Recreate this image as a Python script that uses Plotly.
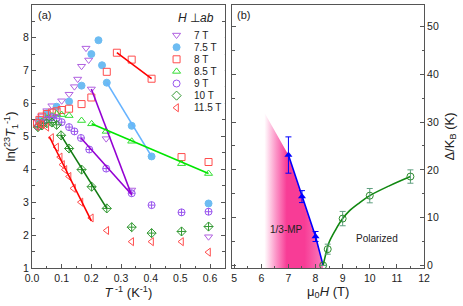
import plotly.graph_objects as go
import numpy as np

# ---------------- Panel (a) data: ln(23 T1^-1) vs 1/T ----------------
fields = ["7 T", "7.5 T", "8 T", "8.5 T", "9 T", "10 T", "11.5 T"]

s7_x = [0.02, 0.033, 0.05, 0.067, 0.1, 0.125, 0.143, 0.154, 0.167, 0.182, 0.191, 0.2, 0.25, 0.336, 0.595]
s7_y = [5.45, 5.62, 5.78, 5.93, 6.08, 6.28, 6.51, 6.74, 7.13, 7.68, 7.32, 6.44, 4.93, 3.37, 1.95]

s75_x = [0.025, 0.05, 0.083, 0.125, 0.167, 0.2, 0.224, 0.236, 0.252, 0.336, 0.403, 0.595]
s75_y = [5.5, 5.7, 5.9, 6.06, 6.54, 7.5, 7.92, 7.16, 6.63, 5.32, 4.39, 2.96]

s8_x = [0.017, 0.025, 0.033, 0.05, 0.067, 0.083, 0.1, 0.125, 0.167, 0.2, 0.252, 0.286, 0.336, 0.403, 0.504, 0.595]
s8_y = [5.4, 5.5, 5.6, 5.68, 5.72, 5.76, 5.8, 5.84, 5.98, 6.18, 6.96, 7.54, 7.33, 6.75, 4.37, 4.22]

s85_x = [0.02, 0.033, 0.05, 0.067, 0.083, 0.1, 0.125, 0.167, 0.201, 0.25, 0.336, 0.504, 0.595]
s85_y = [5.35, 5.45, 5.55, 5.62, 5.68, 5.66, 5.63, 5.48, 5.38, 5.15, 4.85, 4.17, 3.87]

s9_x = [0.02, 0.033, 0.05, 0.067, 0.083, 0.1, 0.125, 0.143, 0.165, 0.193, 0.25, 0.336, 0.403, 0.504, 0.595]
s9_y = [5.3, 5.4, 5.5, 5.58, 5.55, 5.43, 5.28, 5.15, 4.95, 4.6, 4.02, 3.27, 2.91, 2.69, 2.71]

s10_x = [0.02, 0.033, 0.05, 0.067, 0.083, 0.098, 0.125, 0.167, 0.201, 0.252, 0.336, 0.403, 0.504, 0.595]
s10_y = [5.28, 5.33, 5.4, 5.42, 5.35, 5.03, 4.63, 3.99, 3.47, 2.81, 2.24, 2.06, 2.11, 2.26]

s115_x = [0.017, 0.025, 0.033, 0.05, 0.066, 0.083, 0.095, 0.103, 0.111, 0.125, 0.14, 0.165, 0.2, 0.252, 0.336, 0.403, 0.504, 0.595]
s115_y = [5.3, 5.38, 5.35, 5.28, 4.96, 4.67, 4.37, 4.14, 3.99, 3.78, 3.42, 3.0, 2.52, 2.14, 1.80, 1.80, 1.80, 1.48]

# linear fits (endpoints)
fit7_x, fit7_y = [0.2, 0.336], [6.44, 3.21]
fit75_x, fit75_y = [0.252, 0.403], [6.63, 4.39]
fit8_x, fit8_y = [0.286, 0.403], [7.54, 6.75]
fit85_x, fit85_y = [0.201, 0.595], [5.38, 3.87]
fit9_x, fit9_y = [0.165, 0.334], [4.95, 3.25]
fit10_x, fit10_y = [0.098, 0.252], [5.03, 2.81]
fit115_x, fit115_y = [0.059, 0.2], [4.98, 2.43]

# ---------------- Panel (b) data: gap vs field ----------------
mp_H = [7.0, 7.5, 8.0]
mp_gap = [23.1, 14.4, 6.05]
mp_err = [3.8, 1.25, 1.05]
mp_line_H = [7.0, 7.5, 8.0, 8.28]
mp_line_gap = [23.1, 14.4, 6.05, 0.0]

pol_H = [8.28, 8.45, 9.0, 10.0, 11.5]
pol_gap = [0.0, 3.4, 9.8, 14.6, 18.6]
pol_err = [0.0, 1.05, 1.5, 1.5, 1.4]
pol_fit_H = [8.28, 8.37, 8.49, 8.74, 9.0, 9.23, 9.6, 10.0, 10.7, 11.5]
pol_fit_gap = [0.0, 2.2, 4.7, 7.45, 9.8, 11.3, 13.0, 14.6, 16.6, 18.6]

region_H = [5.95, 7.0, 7.5, 8.0, 8.28, 8.28, 5.95]
region_gap = [33.6, 23.1, 14.4, 6.05, 0.0, -0.54, -0.54]

FONT = "Liberation Sans, Arial, sans-serif"
TXT = "#222"
AX = "#555"

series = [
    (s7_x, s7_y, "triangle-down-open", "#b060e0", fit7_x, fit7_y, "#9400d3"),
    (s75_x, s75_y, "circle", "#6dbcf2", fit75_x, fit75_y, "#66b3ff"),
    (s8_x, s8_y, "square-open", "#ff4d4d", fit8_x, fit8_y, "#ff0000"),
    (s85_x, s85_y, "triangle-up-open", "#33dd33", fit85_x, fit85_y, "#00e600"),
    (s9_x, s9_y, "circle-cross-open", "#9955ee", fit9_x, fit9_y, "#9400d3"),
    (s10_x, s10_y, "diamond-cross-open", "#339933", fit10_x, fit10_y, "#117a11"),
    (s115_x, s115_y, "triangle-left-open", "#ff4d4d", fit115_x, fit115_y, "#ff0000"),
]
legend_symbols = ["triangle-down-open", "circle", "square-open", "triangle-up-open",
                  "circle-open", "diamond-open", "triangle-left-open"]

fig = go.Figure()

for xs, ys, sym, col, fx, fy, fcol in series:
    fig.add_trace(go.Scatter(x=xs, y=ys, mode="markers", xaxis="x", yaxis="y",
                             marker=dict(symbol=sym, size=7, color=col,
                                         line=dict(color=col, width=1)),
                             showlegend=False))
for xs, ys, sym, col, fx, fy, fcol in series:
    fig.add_trace(go.Scatter(x=fx, y=fy, mode="lines", xaxis="x", yaxis="y",
                             line=dict(color=fcol, width=1.6), showlegend=False))

# manual legend (panel a)
leg_cols = [s[3] for s in series]
fig.add_trace(go.Scatter(x=[0.12] * len(fields), y=fields, mode="markers",
                         xaxis="x5", yaxis="y5",
                         marker=dict(symbol=legend_symbols, size=7, color=leg_cols,
                                     line=dict(color=leg_cols, width=1)),
                         showlegend=False))

# ---------------- Panel (b) ----------------
fig.add_trace(go.Scatter(x=region_H, y=region_gap, mode="lines", fill="toself",
                         line=dict(width=0), xaxis="x2", yaxis="y2",
                         fillgradient=dict(type="horizontal", start=5.95, stop=8.3,
                                           colorscale=[[0.0, "rgba(255,255,255,1)"],
                                                       [0.07, "rgba(255,255,255,1)"],
                                                       [0.25, "rgb(252,150,200)"],
                                                       [0.42, "rgb(248,60,150)"],
                                                       [0.7, "rgb(248,60,150)"],
                                                       [1.0, "rgb(250,125,190)"]]),
                         hoverinfo="skip", showlegend=False))
fig.add_trace(go.Scatter(x=mp_line_H, y=mp_line_gap, mode="lines", xaxis="x2", yaxis="y2",
                         line=dict(color="#0000ff", width=1.6), showlegend=False))
fig.add_trace(go.Scatter(x=pol_fit_H, y=pol_fit_gap, mode="lines", xaxis="x2", yaxis="y2",
                         line=dict(color="#118811", width=1.6, shape="spline"),
                         showlegend=False))
fig.add_trace(go.Scatter(x=mp_H, y=mp_gap, mode="markers", xaxis="x2", yaxis="y2",
                         marker=dict(symbol="triangle-up", size=7, color="#0000ff"),
                         error_y=dict(type="data", array=mp_err, color="#0000ff",
                                      thickness=1, width=3),
                         showlegend=False))
fig.add_trace(go.Scatter(x=pol_H, y=pol_gap, mode="markers", xaxis="x2", yaxis="y2",
                         marker=dict(symbol="circle-open", size=7, color="#2e8b2e",
                                     line=dict(width=1)),
                         error_y=dict(type="data", array=pol_err, color="#5f9f7f",
                                      thickness=1, width=3),
                         showlegend=False))

tickfont = dict(family=FONT, size=10.5, color=TXT)
titlefont = dict(family=FONT, size=13, color=TXT)
common = dict(showline=True, linecolor=AX, linewidth=1, ticks="inside", ticklen=4,
              tickcolor=AX, showgrid=False, zeroline=False, tickfont=tickfont)

fig.update_layout(
    width=463, height=306,
    margin=dict(l=32, r=39, t=5, b=38),
    paper_bgcolor="white", plot_bgcolor="white",
    font=dict(family=FONT, color=TXT),
    xaxis=dict(domain=[0, 0.492], range=[0, 0.65], dtick=0.1, tickformat=".1f",
               anchor="y", mirror=True,
               minor=dict(dtick=0.05, ticks="inside", ticklen=2.5, tickcolor=AX),
               title=dict(text="<i>T</i><sup> -1</sup> (K<sup>-1</sup>)", font=titlefont,
                          standoff=3),
               **common),
    yaxis=dict(domain=[0, 1], range=[1, 8.99], dtick=1, anchor="x", mirror="ticks",
               minor=dict(dtick=0.5, ticks="inside", ticklen=2.5, tickcolor=AX),
               title=dict(text="ln(<sup>23</sup><i>T</i><sub>1</sub><sup>-1</sup>)",
                          font=titlefont, standoff=4),
               **common),
    xaxis3=dict(overlaying="x", side="top", anchor="y", range=[-0.976, 11.39], dtick=1,
                ticks="inside", ticklen=3, tickcolor=AX, showticklabels=False,
                showline=False, showgrid=False, zeroline=False),
    xaxis2=dict(domain=[0.511, 1], range=[4.93, 12.001], dtick=1, anchor="y2", mirror=True,
                minor=dict(dtick=0.5, ticks="inside", ticklen=2.5, tickcolor=AX),
                title=dict(text="μ<sub>0</sub><i>H</i> (T)", font=titlefont, standoff=3),
                **common),
    yaxis2=dict(domain=[0, 1], range=[-0.54, 54.5], dtick=10, anchor="x2", side="right",
                mirror="ticks",
                minor=dict(dtick=5, ticks="inside", ticklen=2.5, tickcolor=AX),
                title=dict(text="Δ/K<sub>B</sub> (K)", font=titlefont, standoff=6),
                **common),
    xaxis4=dict(overlaying="x2", side="top", anchor="y2", range=[-1.072, 9.52], dtick=1,
                ticks="inside", ticklen=3, tickcolor=AX, showticklabels=False,
                showline=False, showgrid=False, zeroline=False),
    xaxis5=dict(domain=[0.352, 0.492], range=[0, 1], visible=False, anchor="y5"),
    yaxis5=dict(domain=[0.5863, 0.9087], range=[6.5, -0.5], type="category",
                categoryorder="array", categoryarray=fields, visible=False, anchor="x5"),
)

annotations = []
for f in fields:
    annotations.append(dict(x=0.395, y=f, xref="x5", yref="y5", text=f, showarrow=False,
                            xanchor="left", yanchor="middle",
                            font=dict(family=FONT, size=10, color=TXT)))
annotations += [
    dict(x=(175.7 - 32) / 392, y=(268 - 17.5) / 263, xref="paper", yref="paper",
         text="<i>H</i> ⊥<i>ab</i>", showarrow=False, xanchor="left", yanchor="middle",
         font=dict(family=FONT, size=12, color=TXT)),
    dict(x=(35.5 - 32) / 392, y=(268 - 15.5) / 263, xref="paper", yref="paper",
         text="(a)", showarrow=False, xanchor="left", yanchor="middle",
         font=dict(family=FONT, size=11, color=TXT)),
    dict(x=(234.5 - 32) / 392, y=(268 - 15.5) / 263, xref="paper", yref="paper",
         text="(b)", showarrow=False, xanchor="left", yanchor="middle",
         font=dict(family=FONT, size=11, color=TXT)),
    dict(x=6.93, y=7.45, xref="x2", yref="y2", text="1/3-MP", showarrow=False,
         font=dict(family=FONT, size=10, color=TXT)),
    dict(x=10.25, y=5.6, xref="x2", yref="y2", text="Polarized", showarrow=False,
         font=dict(family=FONT, size=10, color=TXT)),
]
fig.update_layout(annotations=annotations)

fig.write_html("out.html", config={"displayModeBar": False},
               post_script="document.body.style.margin='0px';document.body.style.padding='0px';")
